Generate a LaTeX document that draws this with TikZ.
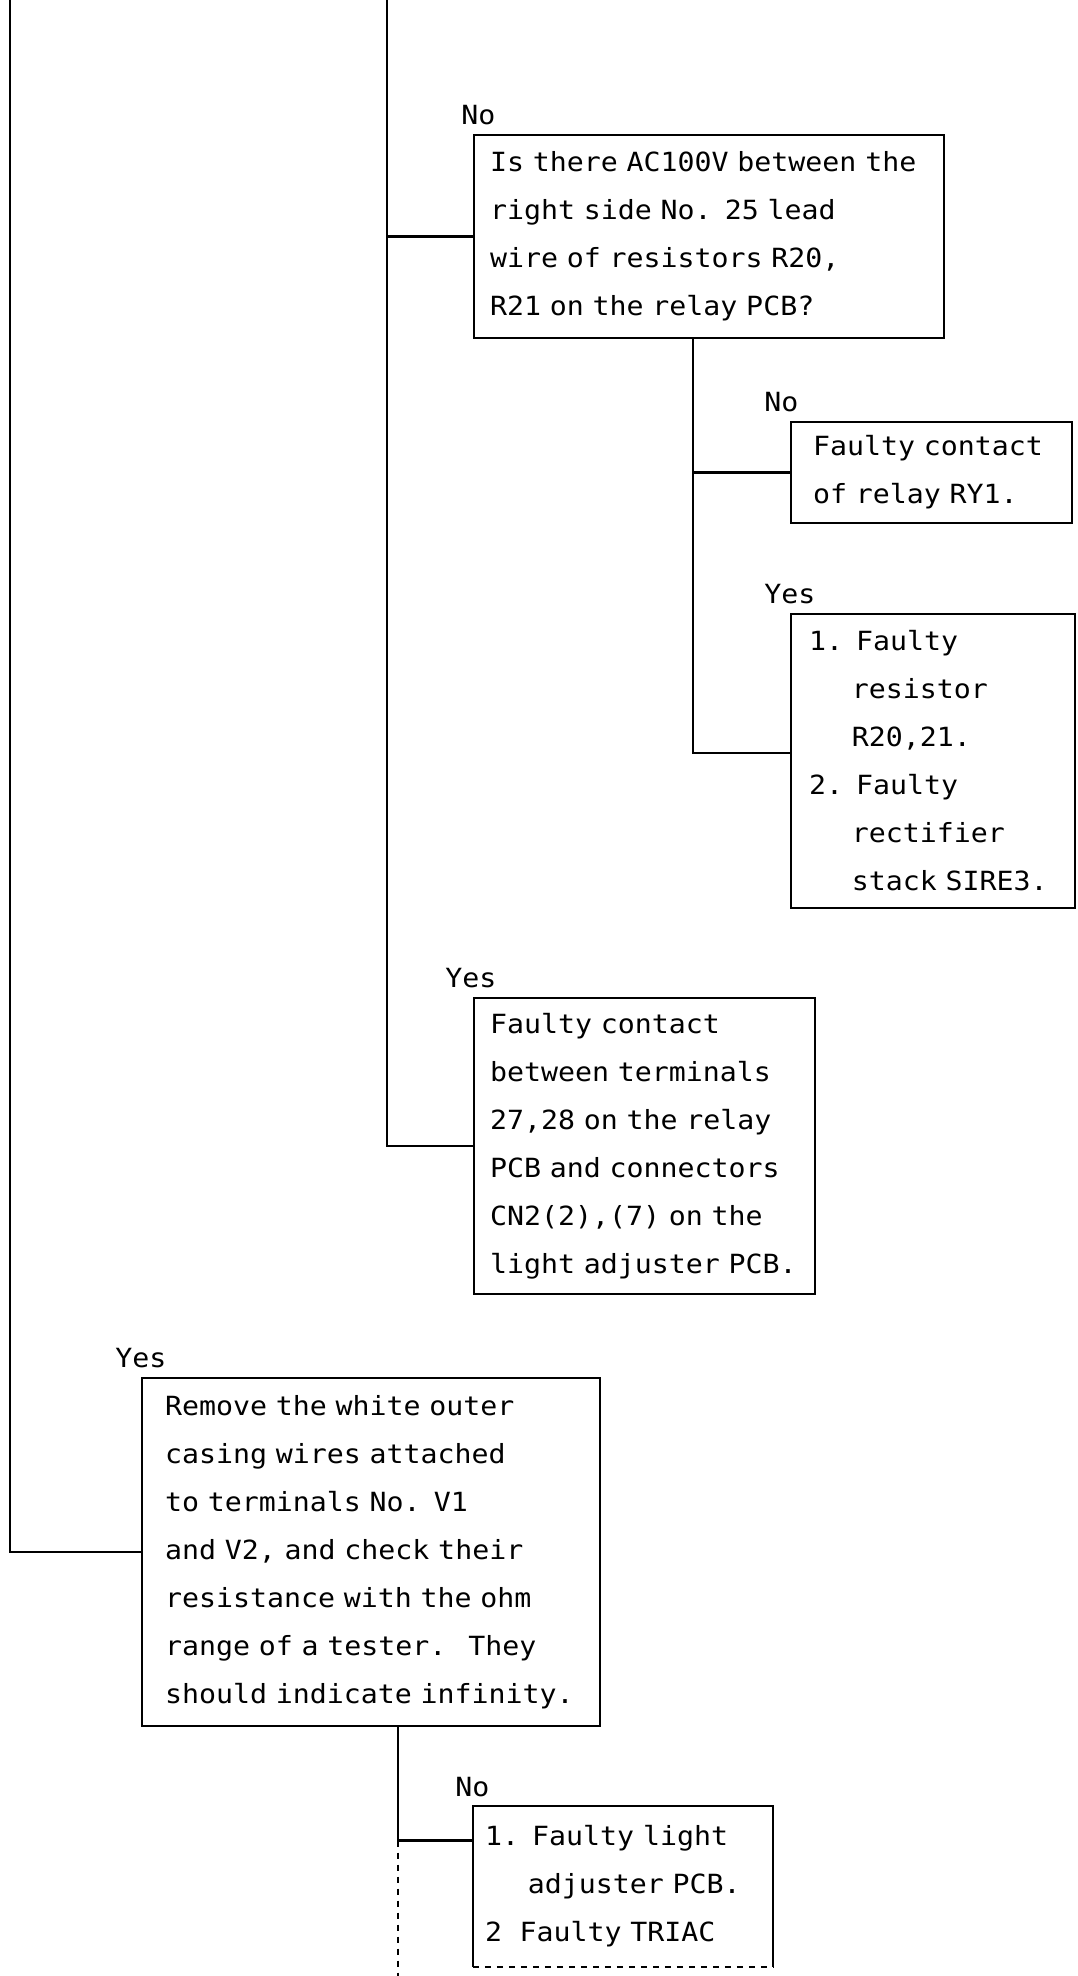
\documentclass[tikz,border=0pt]{standalone}
\usepackage{fontspec}
\setmainfont[FakeStretch=1.07,WordSpace={1.07,0,0}]{DejaVu Sans Mono}
\tikzset{
  % kästen
  box/.style={draw,line width=1.1pt,rectangle,align=left,inner ysep=0pt},
  lbl/.style={anchor=south west,inner sep=0pt,yshift=4.5pt},
  wire/.style={line width=1.1pt},
}
\newcommand{\hang}{\hphantom{1.~}}
\begin{document}
\begin{tikzpicture}[x=0.5pt,y=-0.5pt,every node/.append style={font=\fontsize{13.2}{24}\selectfont}]
  \useasboundingbox (0,0) rectangle (1077,1976);
  \node[box,inner xsep=8pt,text width=219pt,minimum height=101.5pt] (q1) at (709,236.5)
    {Is there AC100V between the\\right side No. 25 lead\\wire of resistors R20,\\R21 on the relay PCB?};
  \node[box,inner xsep=11pt,text width=118.5pt,minimum height=50.5pt] (ry) at (931.5,472.5)
    {Faulty contact\\of relay RY1.};
  \node[box,inner xsep=9pt,text width=124pt,minimum height=147pt] (res) at (933,761)
    {1. Faulty\\\hang resistor\\\hang R20,21.\\2. Faulty\\\hang rectifier\\\hang stack SIRE3.};
  \node[box,inner xsep=8pt,text width=154.5pt,minimum height=148pt] (term) at (644.5,1146)
    {Faulty contact\\between terminals\\27,28 on the relay\\PCB and connectors\\CN2(2),(7) on the\\light adjuster PCB.};
  \node[box,inner xsep=11.5pt,text width=206pt,minimum height=174pt] (rem) at (371,1552)
    {Remove the white outer\\casing wires attached\\to terminals No. V1\\and V2, and check their\\resistance with the ohm\\range of a tester.~ They\\should indicate infinity.};
  \node[box,draw=none,inner xsep=5.5pt,text width=138pt,minimum height=79.5pt] (lt) at (623,1886.5)
    {1. Faulty light\\\hang adjuster PCB.\\2~ Faulty TRIAC};
  % ja/nej
  \node[lbl,xshift=-6pt] (nq1) at (q1.north west) {No};
  \node[lbl,xshift=-13pt] (nry) at (ry.north west) {No};
  \node[lbl,xshift=-13pt] (yres) at (res.north west) {Yes};
  \node[lbl,xshift=-14pt] (yterm) at (term.north west) {Yes};
  \node[lbl,xshift=-13pt] (yrem) at (rem.north west) {Yes};
  \node[lbl,xshift=-9pt] (nlt) at (lt.north west) {No};
  % linjer
  \coordinate (t1) at (10,0);
  \coordinate (t2) at (387,0);
  \coordinate (j1) at ([xshift=-8pt]q1.south);
  \coordinate (j3) at ([xshift=13.5pt]rem.south);
  \coordinate (j4) at ([yshift=23pt]lt.west -| j3);
  \coordinate (bot) at (j3 |- 0,1976);
  \draw[wire] (t1) |- (rem.west);
  \draw[wire] (t2) |- (term.west);
  \draw[wire] (t2 |- q1.west) -- (q1.west);
  \draw[wire] (j1) |- ([yshift=4pt]res.west);
  \draw[wire] (j1 |- ry.west) -- (ry.west);
  \draw[wire] (j3) -- (j4) -- (j4 -| lt.west);
  \draw[wire,dashed] (j4) -- (bot);
  \draw[wire] (lt.south west) -- (lt.north west) -- (lt.north east) -- (lt.south east);
  \draw[wire,dashed] (lt.south west) -- (lt.south east);
\end{tikzpicture}
\end{document}
